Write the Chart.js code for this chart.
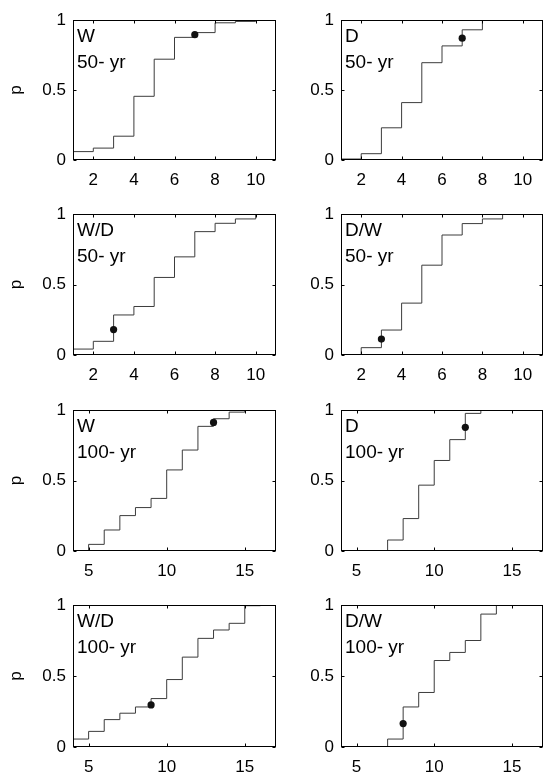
<!DOCTYPE html>
<html>
<head>
<meta charset="utf-8">
<script src="https://cdn.jsdelivr.net/npm/chart.js@4.4.1/dist/chart.umd.min.js"></script>
<style>
  html, body { margin: 0; padding: 0; background: #fff; }
  #wrap { position: relative; width: 547px; height: 773px; overflow: hidden; }
  #wrap canvas { position: absolute; }
</style>
</head>
<body>
<div id="wrap"></div>
<script>
const sites   = ['W', 'D', 'W/D', 'D/W', 'W', 'D', 'W/D', 'D/W'];
const periods = ['50- yr', '50- yr', '50- yr', '50- yr', '100- yr', '100- yr', '100- yr', '100- yr'];

const w50X  = [1, 1, 2, 3, 4, 5, 6, 7, 8, 9, 10];
const w50P  = [0, 0.06, 0.085, 0.17, 0.455, 0.72, 0.876, 0.91, 0.98, 0.99, 1.0];
const d50X  = [1, 1, 2, 3, 4, 5, 6, 7, 8];
const d50P  = [0, 0.007, 0.045, 0.23, 0.41, 0.695, 0.815, 0.93, 1.0];
const wd50X = [1, 1, 2, 3, 4, 5, 6, 7, 8, 9, 10];
const wd50P = [0, 0.042, 0.097, 0.284, 0.344, 0.55, 0.696, 0.875, 0.934, 0.965, 1.0];
const dw50X = [2, 2, 3, 4, 5, 6, 7, 8, 9];
const dw50P = [0, 0.052, 0.177, 0.368, 0.637, 0.851, 0.932, 0.965, 1.0];

const w100X  = [5, 5, 6, 7, 8, 9, 10, 11, 12, 13, 14, 15];
const w100P  = [0, 0.047, 0.149, 0.251, 0.308, 0.373, 0.575, 0.716, 0.884, 0.938, 0.985, 1.0];
const d100X  = [7, 7, 8, 9, 10, 11, 12, 13];
const d100P  = [0, 0.078, 0.23, 0.467, 0.642, 0.79, 0.976, 1.0];
const wd100X = [4, 4, 5, 6, 7, 8, 9, 10, 11, 12, 13, 14, 15, 16];
const wd100P = [0, 0.056, 0.11, 0.193, 0.238, 0.282, 0.341, 0.475, 0.633, 0.765, 0.824, 0.871, 0.995, 1.0];
const dw100X = [7, 7, 8, 9, 10, 11, 12, 13, 14];
const dw100P = [0, 0.056, 0.282, 0.384, 0.609, 0.666, 0.75, 0.936, 1.0];

// observed value (the dot) in each panel
const obsX = [7, 7, 3, 3, 13, 12, 9, 8];
const obsP = [0.895, 0.87, 0.18, 0.113, 0.912, 0.877, 0.296, 0.165];

const xTicks50  = [2, 4, 6, 8, 10];
const xTicks100 = [5, 10, 15];
const yTicks = [0, 0.5, 1];
const yTickLabels = ['0', '0.5', '1'];

const stairsX = [w50X, d50X, wd50X, dw50X, w100X, d100X, wd100X, dw100X];
const stairsP = [w50P, d50P, wd50P, dw50P, w100P, d100P, wd100P, dw100P];

// ===== LAYOUT =====
const rowTops    = [20, 214, 410, 605];
const rowBottoms = [160, 355, 551, 747];
const colCanvasLeft  = [0, 270];
const colCanvasWidth = [280, 277];
const colFrameLeft   = [73, 341];
const colFrameRight  = [276, 546];

const FONT = "'Liberation Sans', Arial, Helvetica, sans-serif";

// box with inward ticks + panel labels, MATLAB style
const framePlugin = {
  id: 'frame',
  afterDraw(chart, args, opts) {
    const { ctx, chartArea: a, scales: { x, y } } = chart;
    const L = Math.round(a.left) + 0.5, R = Math.round(a.right) - 0.5;
    const T = Math.round(a.top) + 0.5, B = Math.round(a.bottom) - 0.5;
    ctx.save();
    ctx.strokeStyle = '#000';
    ctx.lineWidth = 1;
    ctx.strokeRect(L, T, R - L, B - T);
    ctx.beginPath();
    x.ticks.forEach(t => {
      const px = Math.round(x.getPixelForValue(t.value)) + 0.5;
      ctx.moveTo(px, B); ctx.lineTo(px, B - 3);
      ctx.moveTo(px, T); ctx.lineTo(px, T + 3);
    });
    y.ticks.forEach(t => {
      const py = Math.round(y.getPixelForValue(t.value)) + 0.5;
      ctx.moveTo(L, py); ctx.lineTo(L + 3, py);
      ctx.moveTo(R, py); ctx.lineTo(R - 3, py);
    });
    ctx.stroke();
    ctx.fillStyle = '#000';
    ctx.font = '19px ' + FONT;
    ctx.textAlign = 'left';
    ctx.textBaseline = 'alphabetic';
    ctx.fillText(opts.site, a.left + 4, a.top + 21.7);
    ctx.fillText(opts.period, a.left + 4, a.top + 47.5);
    ctx.restore();
  }
};

const wrap = document.getElementById('wrap');

for (let i = 0; i < 8; i++) {
  const row = Math.floor(i / 2), col = i % 2;
  const is50 = i < 4;
  const cLeft = colCanvasLeft[col], cWidth = colCanvasWidth[col];
  const cTop = rowTops[row] - 20;
  const cHeight = rowBottoms[row] - rowTops[row] + 20 + 35;

  const canvas = document.createElement('canvas');
  canvas.width = cWidth; canvas.height = cHeight;
  canvas.style.left = cLeft + 'px'; canvas.style.top = cTop + 'px';
  canvas.style.width = cWidth + 'px'; canvas.style.height = cHeight + 'px';
  wrap.appendChild(canvas);

  const xTicks = is50 ? xTicks50 : xTicks100;
  const stairs = stairsX[i].map((v, k) => ({ x: v, y: stairsP[i][k] }));

  new Chart(canvas, {
    type: 'line',
    data: {
      datasets: [
        {
          data: [{ x: obsX[i], y: obsP[i] }],
          showLine: false,
          pointRadius: 3.6,
          pointBackgroundColor: '#111',
          pointBorderColor: '#111',
          pointBorderWidth: 0
        },
        {
          data: stairs,
          stepped: 'before',
          borderColor: '#3c3c3c',
          borderWidth: 1,
          pointRadius: 0,
          fill: false
        }
      ]
    },
    options: {
      responsive: false,
      animation: false,
      devicePixelRatio: 1,
      layout: { padding: { top: 20, right: cWidth - (colFrameRight[col] - cLeft), left: 0, bottom: 0 } },
      plugins: {
        legend: { display: false },
        tooltip: { enabled: false },
        frame: { site: sites[i], period: periods[i] }
      },
      scales: {
        x: {
          type: 'linear',
          min: is50 ? 1 : 4,
          max: is50 ? 11 : 17,
          grid: { display: false, drawTicks: false },
          border: { display: false },
          afterBuildTicks: s => { s.ticks = xTicks.map(v => ({ value: v })); },
          afterFit: s => { s.height = 35; },
          ticks: {
            color: '#000',
            font: { family: FONT, size: 17 },
            padding: 10,
            maxRotation: 0,
            autoSkip: false
          }
        },
        y: {
          type: 'linear',
          min: 0,
          max: 1,
          grid: { display: false, drawTicks: false },
          border: { display: false },
          afterBuildTicks: s => { s.ticks = yTicks.map(v => ({ value: v })); },
          afterFit: s => { s.width = colFrameLeft[col] - cLeft; },
          ticks: {
            color: '#000',
            font: { family: FONT, size: 17 },
            padding: 7,
            callback: (v, k) => yTickLabels[k]
          },
          title: {
            display: col === 0,
            text: 'p',
            color: '#000',
            font: { family: FONT, size: 17 },
            padding: { top: 6, bottom: 0 }
          }
        }
      }
    },
    plugins: [framePlugin]
  });
}
</script>
</body>
</html>
